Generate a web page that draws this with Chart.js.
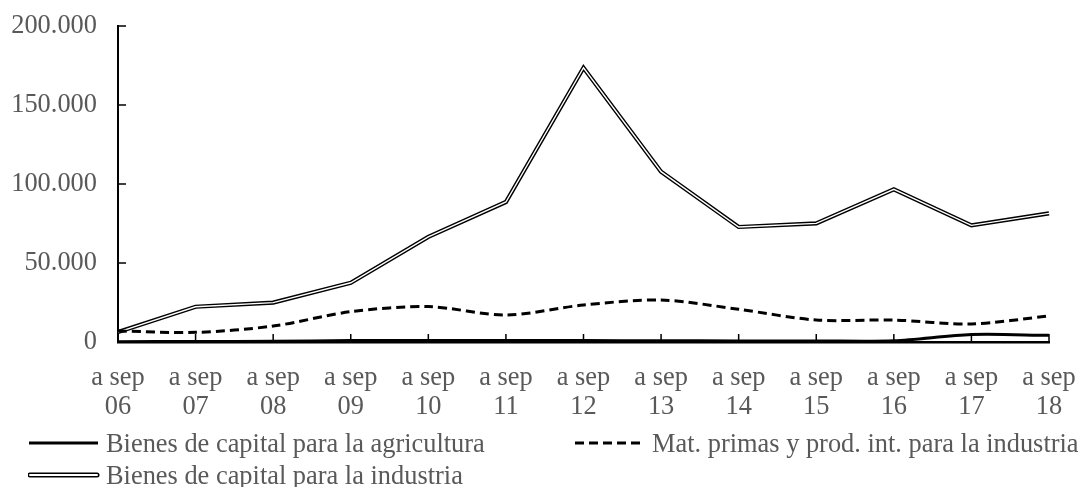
<!DOCTYPE html>
<html>
<head>
<meta charset="utf-8">
<script src="https://cdn.jsdelivr.net/npm/chart.js@4.4.0/dist/chart.umd.min.js"></script>
<style>
html, body { margin: 0; padding: 0; background: #fff; }
#wrap { position: relative; width: 1082px; height: 487px; font-family: "Liberation Serif", "Times New Roman", serif; color: #595959; }
#wrap canvas { position: absolute; left: 0; top: 0; }
.leg { position: absolute; display: flex; align-items: center; height: 30px; font-size: 26.4px; white-space: nowrap; }
.leg svg { margin-right: 6px; }
</style>
</head>
<body>
<div id="wrap">
  <canvas id="graph" width="1082" height="487"></canvas>
</div>
<script>
// data
const years = ['06', '07', '08', '09', '10', '11', '12', '13', '14', '15', '16', '17', '18'];
const agricultura = [200, 300, 400, 900, 1000, 1000, 900, 800, 700, 700, 800, 4700, 4200];
const matPrimas = [7000, 6100, 10100, 19200, 22400, 17100, 23400, 26600, 20700, 13900, 13900, 11400, 16500];
const industria = [6300, 22300, 24900, 37500, 66500, 88600, 173600, 107800, 72800, 75100, 96600, 73800, 81400];
const seriesNames = [
    'Bienes de capital para la agricultura',
    'Mat. primas y prod. int. para la industria',
    'Bienes de capital para la industria'
];
const yTicks = [0, 50000, 100000, 150000, 200000];

const labels = years.map(y => ['a sep', y]);
const textColor = '#595959';
const fontFam = '"Liberation Serif", "Times New Roman", serif';
const fontSize = 26.4;

function fmt(v) {
    return String(v).replace(/\B(?=(\d{3})+(?!\d))/g, '.');
}

// tick marks pointing into the plot, taken from the scales' own tick pixels
const insideTicks = {
    id: 'insideTicks',
    afterDraw(chart) {
        const ctx = chart.ctx;
        const xs = chart.scales.x, ys = chart.scales.y;
        const area = chart.chartArea;
        ctx.save();
        ctx.strokeStyle = '#000';
        ctx.lineWidth = 1.5;
        ctx.beginPath();
        xs.ticks.forEach((t, i) => {
            const px = xs.getPixelForTick(i);
            ctx.moveTo(px, area.bottom);
            ctx.lineTo(px, area.bottom - 8);
        });
        ys.ticks.forEach((t, i) => {
            const py = ys.getPixelForTick(i);
            ctx.moveTo(area.left, py);
            ctx.lineTo(area.left + 8, py);
        });
        ctx.stroke();
        ctx.restore();
    }
};

const data = {
    labels: labels,
    datasets: [{
        label: seriesNames[0],
        data: agricultura,
        borderColor: '#000',
        borderWidth: 3,
        tension: 0.3,
        order: 1
    }, {
        label: seriesNames[1],
        data: matPrimas,
        borderColor: '#000',
        borderWidth: 3,
        borderDash: [9, 5],
        tension: 0.3,
        order: 0
    }, {
        // double line: thick black stroke ...
        label: seriesNames[2],
        data: industria,
        borderColor: '#000',
        borderWidth: 4.2,
        tension: 0,
        order: 3
    }, {
        // ... with a thin white stroke on top
        label: seriesNames[2] + ' (in)',
        data: industria,
        borderColor: '#fff',
        borderWidth: 1.4,
        tension: 0,
        order: 2
    }]
};

const config = {
    type: 'line',
    data: data,
    plugins: [insideTicks],
    options: {
        responsive: false,
        animation: false,
        devicePixelRatio: 1,
        layout: { padding: { top: 26, right: 33, bottom: 0, left: 0 } },
        elements: { point: { radius: 0, hoverRadius: 0 }, line: { fill: false } },
        plugins: { legend: { display: false }, tooltip: { enabled: false } },
        scales: {
            x: {
                offset: false,
                grid: { drawOnChartArea: false, drawTicks: false },
                border: { color: '#000', width: 2.5 },
                ticks: {
                    color: textColor,
                    font: { family: fontFam, size: fontSize, lineHeight: 1.1 },
                    padding: 22,
                    maxRotation: 0,
                    autoSkip: false
                },
                afterFit: function (scale) {
                    scale.height = 145;
                    scale.paddingLeft = 0;
                    scale.paddingRight = 0;
                }
            },
            y: {
                min: 0,
                max: 200000,
                afterBuildTicks: function (scale) { scale.ticks = yTicks.map(v => ({ value: v })); },
                grid: { drawOnChartArea: false, drawTicks: false },
                border: { color: '#000', width: 2 },
                ticks: {
                    color: textColor,
                    font: { family: fontFam, size: fontSize },
                    padding: 21,
                    callback: function (v) { return fmt(v); }
                },
                afterFit: function (scale) {
                    scale.width = 118;
                    scale.paddingTop = 0;
                    scale.paddingBottom = 0;
                }
            }
        }
    }
};

const chart = new Chart('graph', config);

// html legend
const legendPos = [
    { left: 28, top: 428 },
    { left: 574, top: 428 },
    { left: 28, top: 460 }
];
const icons = [
    '<line x1="1" y1="6" x2="70" y2="6" stroke="#000" stroke-width="3"/>',
    '<line x1="1" y1="6" x2="68" y2="6" stroke="#000" stroke-width="3" stroke-dasharray="9 5"/>',
    '<line x1="2" y1="6" x2="69" y2="6" stroke="#000" stroke-width="5" stroke-linecap="round"/>' +
    '<line x1="2" y1="6" x2="69" y2="6" stroke="#fff" stroke-width="2" stroke-linecap="round"/>'
];
const wrap = document.getElementById('wrap');
seriesNames.forEach((name, i) => {
    const d = document.createElement('div');
    d.className = 'leg';
    d.style.left = legendPos[i].left + 'px';
    d.style.top = legendPos[i].top + 'px';
    d.innerHTML = '<svg width="72" height="12">' + icons[i] + '</svg><span>' + name + '</span>';
    wrap.appendChild(d);
});
</script>
</body>
</html>
